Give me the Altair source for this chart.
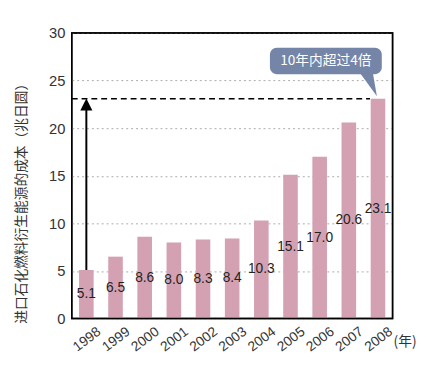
import altair as alt
import pandas as pd

years = ["1998", "1999", "2000", "2001", "2002", "2003", "2004", "2005", "2006", "2007", "2008"]
costs = [5.1, 6.5, 8.6, 8.0, 8.3, 8.4, 10.3, 15.1, 17.0, 20.6, 23.1]
y_title = "进口石化燃料衍生能源的成本（兆日圆）"
callout_text = "10年内超过4倍"
unit_text = "(年)"

df = pd.DataFrame({"year": years, "cost": costs})
df["label"] = [f"{v:.1f}" for v in costs]

FONT = "Liberation Sans"
CJK = "Noto Sans CJK SC"

xscale = alt.Scale(domain=years, paddingInner=0.5, paddingOuter=0.25)
yscale = alt.Scale(domain=[0, 30])

base = alt.Chart(df)

bars = base.mark_bar(color="#d3a1b2").encode(
    x=alt.X("year:N", scale=xscale, sort=years,
            axis=alt.Axis(title=None, labelAngle=-37, labelAlign="right", labelBaseline="top",
                          labelFontSize=14, labelColor="#333", labelFont=FONT, ticks=False,
                          domain=False, labelPadding=6, labelOffset=9)),
    y=alt.Y("cost:Q", scale=yscale,
            axis=alt.Axis(title=y_title, values=[0, 5, 10, 15, 20, 25, 30], grid=True,
                          gridDash=[2, 3], gridColor="#aaaaaa", ticks=False, domain=False,
                          labelFontSize=15, labelColor="#333", labelFont=FONT, labelPadding=7,
                          titleFont=CJK, titleFontSize=14, titleFontWeight="normal",
                          titleColor="#333", titleAngle=-90, titleX=-51, titleY=170,
                          titleAlign="center", titleBaseline="middle")),
)

labels = base.transform_calculate(mid="datum.cost / 2").mark_text(
    fontSize=14, color="#222", font=FONT
).encode(
    x=alt.X("year:N", scale=xscale, sort=years),
    y=alt.Y("mid:Q", scale=yscale),
    text="label:N",
)

first = df[df.year == years[0]]
last_val = costs[-1]

arrow_line = alt.Chart(first).mark_rule(color="black", strokeWidth=2).encode(
    x=alt.X("year:N", scale=xscale, sort=years),
    y=alt.Y("cost:Q", scale=yscale),
    y2=alt.datum(last_val - 0.6),
)
arrow_head = alt.Chart(first).transform_calculate(top=str(last_val)).mark_point(
    shape="M0,-1L1,1L-1,1Z", filled=True, color="black", opacity=1, size=150, yOffset=6
).encode(
    x=alt.X("year:N", scale=xscale, sort=years),
    y=alt.Y("top:Q", scale=yscale),
)

dash = alt.Chart(df[df.year == years[-1]]).mark_rule(
    color="black", strokeWidth=1.5, strokeDash=[6, 4]
).encode(
    x=alt.value(0),
    x2=alt.value(304),
    y=alt.Y("cost:Q", scale=yscale),
)

frame_df = pd.DataFrame({"t": [""]})
frame = alt.Chart(frame_df).mark_rect(fill=None, stroke="black", strokeWidth=1.5, fillOpacity=0).encode(
    x=alt.value(0), x2=alt.value(327), y=alt.value(0), y2=alt.value(291)
)

callout_df = pd.DataFrame({"t": [callout_text]})
box = alt.Chart(callout_df).mark_rect(color="#7485a7", cornerRadius=7).encode(
    x=alt.value(202), x2=alt.value(316), y=alt.value(15), y2=alt.value(42)
)
pointer = alt.Chart(callout_df).mark_point(
    shape="M-0.75,-1L0.33,-1L0.67,0.96Z", filled=True, color="#7485a7", opacity=1, size=576
).encode(x=alt.value(303), y=alt.value(53))
box_text = alt.Chart(callout_df).mark_text(
    color="white", fontSize=14, font=CJK
).encode(x=alt.value(259), y=alt.value(29), text="t:N")

unit_df = pd.DataFrame({"t": [unit_text]})
unit = alt.Chart(unit_df).mark_text(fontSize=14, color="#333", font=CJK, align="left").encode(
    x=alt.value(328), y=alt.value(315), text="t:N"
)

chart = alt.layer(bars, labels, dash, arrow_line, arrow_head, frame, box, pointer, box_text, unit).properties(
    width=327, height=291,
    background="white",
    autosize=alt.AutoSizeParams(type="none"),
    padding={"left": 65, "top": 22, "right": 30, "bottom": 50},
).configure_view(stroke="black", strokeWidth=1.5)

chart.save("out.html", embed_options={"renderer": "svg", "actions": False})
